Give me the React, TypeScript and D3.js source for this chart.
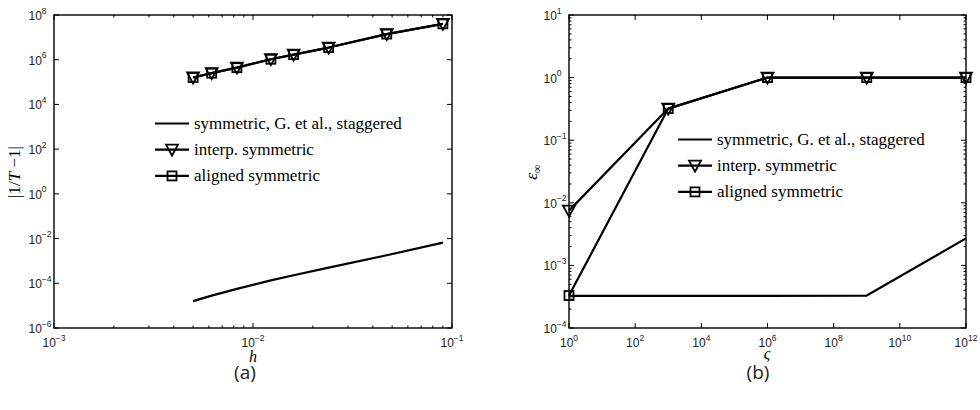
import React from 'react';
import * as d3 from 'd3';

// ---- Panel (a): |1/T - 1| versus h ----
const hValues = [0.005, 0.0062, 0.0083, 0.0123, 0.016, 0.024, 0.047, 0.09];
const interpTh = [1.6e5, 2.5e5, 4.4e5, 1.05e6, 1.7e6, 3.5e6, 1.4e7, 4.0e7];
const alignedTh = [1.6e5, 2.5e5, 4.4e5, 1.05e6, 1.7e6, 3.5e6, 1.4e7, 4.0e7];
const staggeredTh = [1.6e-5, 2.8e-5, 5.6e-5, 1.35e-4, 2.3e-4, 5.0e-4, 1.8e-3, 6.6e-3];

// ---- Panel (b): error versus stiffness ----
const sigmaValues = [1, 1e3, 1e6, 1e9, 1e12];
const interpErr = [7.5e-3, 0.32, 1, 1, 1];
const alignedErr = [3.3e-4, 0.32, 1, 1, 1];
const staggeredErr = [3.25e-4, 3.25e-4, 3.25e-4, 3.3e-4, 2.7e-3];

const legendLabels = ['symmetric, G. et al., staggered', 'interp. symmetric', 'aligned symmetric'];

const leftXExps = [-3, -2, -1];
const leftYExps = [-6, -4, -2, 0, 2, 4, 6, 8];
const rightXExps = [0, 2, 4, 6, 8, 10, 12];
const rightYExps = [-4, -3, -2, -1, 0, 1];

type Marker = 'none' | 'tri' | 'sq';
interface Series { x: number[]; y: number[]; marker: Marker }

const SANS = 'Liberation Sans, Arial, sans-serif';
const SERIF = 'Liberation Serif, Times New Roman, serif';

const fmtExp = (e: number) => (e < 0 ? '\u2212' + Math.abs(e) : String(e));

function MarkerShape({ kind, cx, cy }: { kind: Marker; cx: number; cy: number }) {
  if (kind === 'tri') {
    const p = `${cx - 6},${cy - 5} ${cx + 6},${cy - 5} ${cx},${cy + 6}`;
    return <polygon points={p} fill="none" stroke="#000" strokeWidth={1.8} strokeLinejoin="miter" />;
  }
  if (kind === 'sq') {
    return <rect x={cx - 4.5} y={cy - 4.5} width={9} height={9} fill="none" stroke="#000" strokeWidth={1.8} />;
  }
  return null;
}

interface PanelProps {
  box: { x0: number; x1: number; y0: number; y1: number };
  xDomain: [number, number];
  yDomain: [number, number];
  xExps: number[];
  yExps: number[];
  xMinor: boolean;
  yMinor: boolean;
  series: Series[];
  legend: { x: number; y: number };
}

function Panel({ box, xDomain, yDomain, xExps, yExps, xMinor, yMinor, series, legend }: PanelProps) {
  const xs = d3.scaleLog().domain(xDomain).range([box.x0, box.x1]);
  const ys = d3.scaleLog().domain(yDomain).range([box.y1, box.y0]);
  const line = d3.line<[number, number]>().x(d => xs(d[0])).y(d => ys(d[1]));

  const minorVals = (domain: [number, number]) => {
    const out: number[] = [];
    const lo = Math.round(Math.log10(domain[0]));
    const hi = Math.round(Math.log10(domain[1]));
    for (let e = lo; e < hi; e++) for (let m = 2; m <= 9; m++) out.push(m * Math.pow(10, e));
    return out;
  };

  const major = 5;
  const minor = 2.5;
  const tickEls: React.ReactNode[] = [];
  xExps.forEach((e, i) => {
    const x = xs(Math.pow(10, e));
    tickEls.push(<line key={`xb${i}`} x1={x} x2={x} y1={box.y1} y2={box.y1 - major} />);
    tickEls.push(<line key={`xt${i}`} x1={x} x2={x} y1={box.y0} y2={box.y0 + major} />);
  });
  yExps.forEach((e, i) => {
    const y = ys(Math.pow(10, e));
    tickEls.push(<line key={`yl${i}`} x1={box.x0} x2={box.x0 + major} y1={y} y2={y} />);
    tickEls.push(<line key={`yr${i}`} x1={box.x1} x2={box.x1 - major} y1={y} y2={y} />);
  });
  if (xMinor) minorVals(xDomain).forEach((v, i) => {
    const x = xs(v);
    tickEls.push(<line key={`xmb${i}`} x1={x} x2={x} y1={box.y1} y2={box.y1 - minor} />);
    tickEls.push(<line key={`xmt${i}`} x1={x} x2={x} y1={box.y0} y2={box.y0 + minor} />);
  });
  if (yMinor) minorVals(yDomain).forEach((v, i) => {
    const y = ys(v);
    tickEls.push(<line key={`yml${i}`} x1={box.x0} x2={box.x0 + minor} y1={y} y2={y} />);
    tickEls.push(<line key={`ymr${i}`} x1={box.x1} x2={box.x1 - minor} y1={y} y2={y} />);
  });

  const legendMarkers: Marker[] = ['none', 'tri', 'sq'];
  const rowGap = 26.2;

  return (
    <g>
      {/* data */}
      {series.map((s, i) => {
        const pts = s.x.map((xv, j) => [xv, s.y[j]] as [number, number]);
        return (
          <g key={i}>
            <path d={line(pts) || ''} fill="none" stroke="#000" strokeWidth={2.2} strokeLinejoin="round" />
            {s.marker !== 'none' && pts.map((p, j) => (
              <MarkerShape key={j} kind={s.marker} cx={xs(p[0])} cy={ys(p[1])} />
            ))}
          </g>
        );
      })}

      {/* frame and ticks */}
      <rect x={box.x0} y={box.y0} width={box.x1 - box.x0} height={box.y1 - box.y0} fill="none" stroke="#000" strokeWidth={1.4} />
      <g stroke="#000" strokeWidth={1}>{tickEls}</g>

      {/* tick labels */}
      <g fontFamily={SANS} fontSize={12} fill="#222">
        {xExps.map((e, i) => (
          <text key={`xl${i}`} x={xs(Math.pow(10, e))} y={box.y1 + 19} textAnchor="middle">
            10<tspan dy={-6.5} fontSize={8.5}>{fmtExp(e)}</tspan>
          </text>
        ))}
        {yExps.map((e, i) => (
          <text key={`yl${i}`} x={box.x0 - 25.5} y={ys(Math.pow(10, e)) + 5}>
            10<tspan dy={-6.5} fontSize={8.5}>{fmtExp(e)}</tspan>
          </text>
        ))}
      </g>

      {/* legend */}
      <g fontFamily={SERIF} fontSize={17} fill="#000">
        {legendLabels.map((lab, i) => {
          const y = legend.y + i * rowGap;
          const xa = legend.x;
          const xb = legend.x + 34;
          return (
            <g key={i}>
              <line x1={xa} x2={xb} y1={y} y2={y} stroke="#000" strokeWidth={2.2} />
              <MarkerShape kind={legendMarkers[i]} cx={(xa + xb) / 2} cy={y} />
              <text x={xb + 5} y={y + 5}>{lab}</text>
            </g>
          );
        })}
      </g>
    </g>
  );
}

export default function App() {
  const leftBox = { x0: 54, x1: 452, y0: 15, y1: 328 };
  const rightBox = { x0: 569, x1: 966, y0: 15, y1: 328 };

  const leftSeries: Series[] = [
    { x: hValues, y: staggeredTh, marker: 'none' },
    { x: hValues, y: interpTh, marker: 'tri' },
    { x: hValues, y: alignedTh, marker: 'sq' },
  ];
  const rightSeries: Series[] = [
    { x: sigmaValues, y: staggeredErr, marker: 'none' },
    { x: sigmaValues, y: interpErr, marker: 'tri' },
    { x: sigmaValues, y: alignedErr, marker: 'sq' },
  ];

  return (
    <div style={{ position: 'absolute', left: 0, top: 0 }}>
      <svg width={980} height={410} viewBox="0 0 980 410" style={{ display: 'block', background: '#fff' }}>
        <rect x={0} y={0} width={980} height={410} fill="#fff" />
        <Panel
          box={leftBox}
          xDomain={[1e-3, 1e-1]}
          yDomain={[1e-6, 1e8]}
          xExps={leftXExps}
          yExps={leftYExps}
          xMinor={true}
          yMinor={false}
          series={leftSeries}
          legend={{ x: 155, y: 123.5 }}
        />
        <Panel
          box={rightBox}
          xDomain={[1, 1e12]}
          yDomain={[1e-4, 10]}
          xExps={rightXExps}
          yExps={rightYExps}
          xMinor={false}
          yMinor={true}
          series={rightSeries}
          legend={{ x: 678, y: 139.5 }}
        />

        {/* axis titles */}
        <g fontFamily={SERIF} fontSize={16} fill="#000">
          <text transform="translate(20,172) rotate(-90)" textAnchor="middle" fontSize={17}>
            |1/<tspan fontStyle="italic">T</tspan> {'\u2212'}1|
          </text>
          <text x={253} y={362} textAnchor="middle" fontStyle="italic">h</text>
          <text transform="translate(537,172) rotate(-90)" textAnchor="middle" fontSize={17}>
            <tspan fontStyle="italic">{'\u03B5'}</tspan>
            <tspan fontSize={12} dy={4}>{'\u221E'}</tspan>
          </text>
          <text x={767} y={359} textAnchor="middle" fontStyle="italic">{'\u03C2'}</text>
        </g>

        {/* panel captions */}
        <g fontFamily="Open Sans, Noto Sans, sans-serif" fontSize={19} fill="#222">
          <text x={245} y={379} textAnchor="middle">(a)</text>
          <text x={758} y={379} textAnchor="middle">(b)</text>
        </g>
      </svg>
    </div>
  );
}
